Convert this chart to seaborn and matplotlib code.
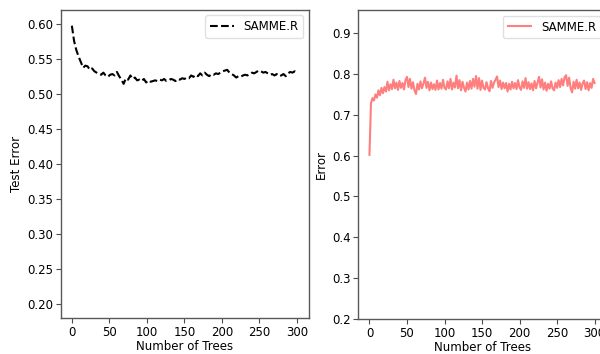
import matplotlib
matplotlib.use("Agg")
import matplotlib.pyplot as plt
import seaborn as sns
import pandas as pd

# Left panel: test error (dashed black), sampled every 3 trees
left_trees = list(range(0, 301, 3))
left_error = [
    0.597, 0.575, 0.562, 0.553, 0.545, 0.537, 0.540, 0.539, 0.534, 0.536,
    0.532, 0.530, 0.528, 0.527, 0.530, 0.526, 0.524, 0.527, 0.528, 0.526,
    0.531, 0.525, 0.520, 0.514, 0.522, 0.520, 0.526, 0.521, 0.523, 0.519,
    0.520, 0.518, 0.521, 0.516, 0.519, 0.517, 0.518, 0.519, 0.518, 0.520,
    0.519, 0.521, 0.518, 0.519, 0.521, 0.520, 0.518, 0.521, 0.520, 0.522,
    0.521, 0.523, 0.522, 0.526, 0.524, 0.527, 0.525, 0.529, 0.526, 0.530,
    0.527, 0.525, 0.528, 0.527, 0.529, 0.528, 0.530, 0.532, 0.533, 0.534,
    0.530, 0.528, 0.526, 0.523, 0.525, 0.524, 0.526, 0.527, 0.526, 0.528,
    0.530, 0.529, 0.531, 0.533, 0.532, 0.530, 0.531, 0.529, 0.527, 0.528,
    0.526, 0.528, 0.525, 0.526, 0.528, 0.525, 0.529, 0.531, 0.530, 0.532,
    0.531,
]

# Right panel: error (light red), sampled every 2 trees
right_trees = list(range(0, 301, 2))
right_error = [
    0.602,
    0.728, 0.741, 0.735, 0.750, 0.742, 0.760, 0.748, 0.766, 0.753, 0.768,
    0.757, 0.781, 0.760, 0.775, 0.763, 0.786, 0.765, 0.779, 0.761, 0.783,
    0.766, 0.778, 0.762, 0.785, 0.793, 0.768, 0.788, 0.764, 0.780, 0.760,
    0.751, 0.776, 0.762, 0.782, 0.765, 0.777, 0.791, 0.766, 0.781, 0.760,
    0.779, 0.763, 0.775, 0.761, 0.784, 0.762, 0.778, 0.764, 0.786, 0.766,
    0.762, 0.782, 0.765, 0.788, 0.762, 0.779, 0.767, 0.796, 0.765, 0.785,
    0.760, 0.781, 0.766, 0.757, 0.779, 0.762, 0.783, 0.764, 0.788, 0.769,
    0.795, 0.764, 0.790, 0.761, 0.784, 0.766, 0.762, 0.780, 0.765, 0.758,
    0.783, 0.766, 0.779, 0.786, 0.794, 0.768, 0.784, 0.763, 0.779, 0.765,
    0.778, 0.757, 0.776, 0.762, 0.781, 0.765, 0.778, 0.763, 0.785, 0.767,
    0.761, 0.782, 0.766, 0.790, 0.764, 0.780, 0.763, 0.777, 0.760, 0.783,
    0.765, 0.779, 0.793, 0.767, 0.787, 0.762, 0.779, 0.759, 0.776, 0.764,
    0.782, 0.765, 0.760, 0.779, 0.766, 0.785, 0.768, 0.788, 0.772, 0.792,
    0.797, 0.771, 0.791, 0.766, 0.755, 0.781, 0.764, 0.786, 0.765, 0.779,
    0.761, 0.777, 0.784, 0.763, 0.780, 0.760, 0.778, 0.766, 0.788, 0.778,
]

series_label = "SAMME.R"
x_label = "Number of Trees"
left_ylabel = "Test Error"
right_ylabel = "Error"

left_df = pd.DataFrame({"trees": left_trees, "error": left_error})
right_df = pd.DataFrame({"trees": right_trees, "error": right_error})

plt.rcParams["font.family"] = ["DejaVu Sans"]
fig = plt.figure(figsize=(6.0, 3.54), dpi=100)
ax1 = fig.add_axes([0.101, 0.1017, 0.414, 0.8713])
ax2 = fig.add_axes([0.597, 0.099, 0.414, 0.873])

sns.lineplot(data=left_df, x="trees", y="error", ax=ax1, color="black",
             linestyle="--", linewidth=1.5, label=series_label)
sns.lineplot(data=right_df, x="trees", y="error", ax=ax2, color="#ff7f7f",
             linewidth=1.5, label=series_label)

ax1.set_ylim(0.18, 0.62)
ax1.set_xlim(-15, 316)
ax1.set_yticks([0.20, 0.25, 0.30, 0.35, 0.40, 0.45, 0.50, 0.55, 0.60])
ax1.set_yticklabels(["0.20", "0.25", "0.30", "0.35", "0.40", "0.45", "0.50", "0.55", "0.60"])
ax2.set_ylim(0.2, 0.957)
ax2.set_xlim(-15, 316)
ax2.set_yticks([0.2, 0.3, 0.4, 0.5, 0.6, 0.7, 0.8, 0.9])

for ax, yl in ((ax1, left_ylabel), (ax2, right_ylabel)):
    ax.set_xticks([0, 50, 100, 150, 200, 250, 300])
    ax.set_xlabel(x_label, fontsize=8.5, labelpad=1)
    ax.set_ylabel(yl, fontsize=8.5, labelpad=3)
    ax.tick_params(labelsize=8.5, length=3.5, color="0.3", pad=2)
    for s in ax.spines.values():
        s.set_color("0.35")
        s.set_linewidth(1.0)
    leg = ax.legend(loc="upper right", fontsize=8.5, frameon=True,
                    handlelength=2.0, borderpad=0.4)
    leg.get_frame().set_edgecolor("0.85")

fig.savefig("out.png", dpi=100)
